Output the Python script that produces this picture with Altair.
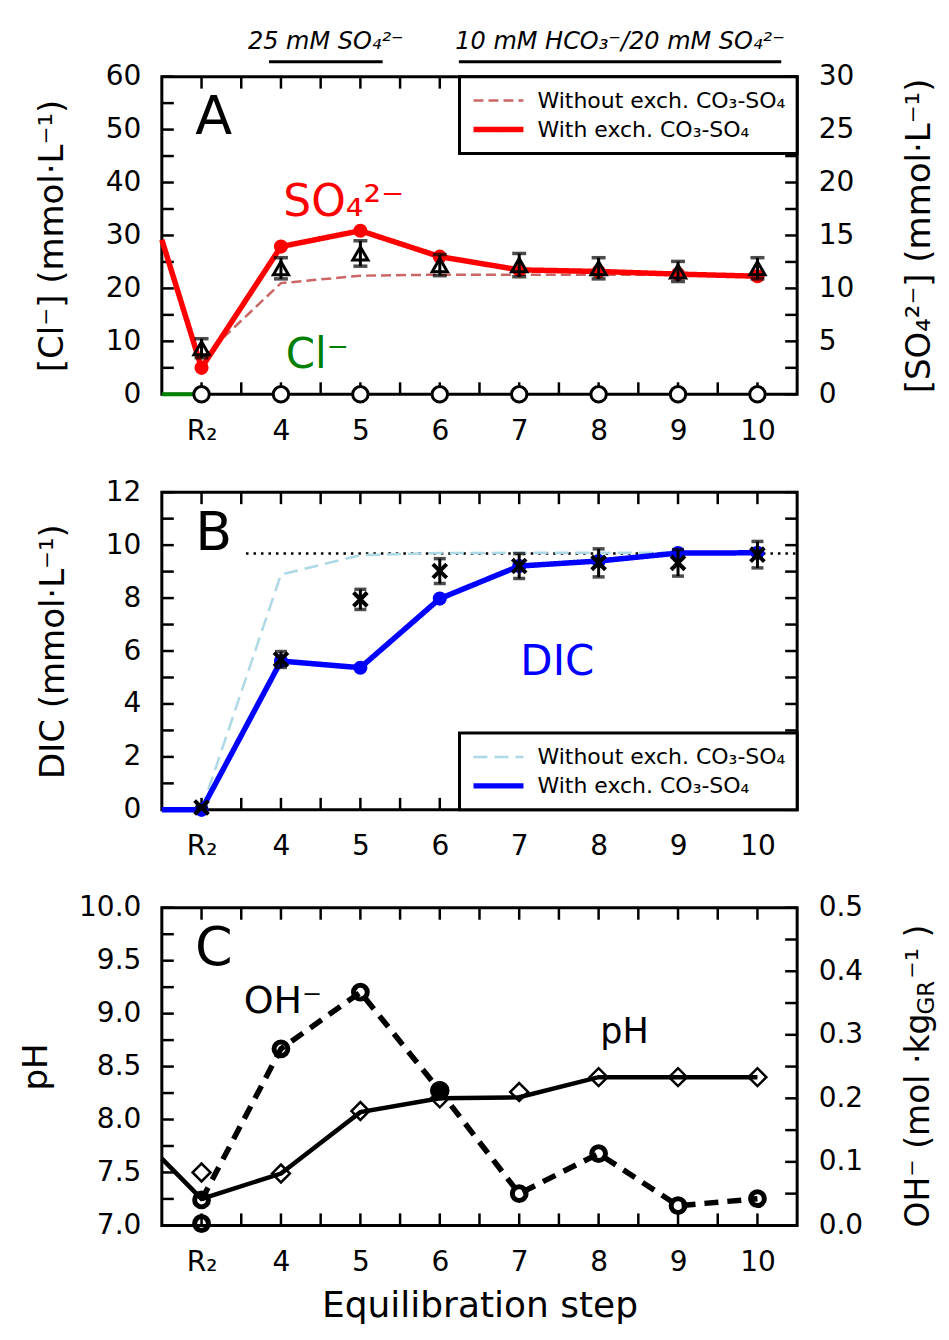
import altair as alt
import pandas as pd

FONT = "DejaVu Sans"
W, H = 636, 318

# ---------------- shared x ----------------
steps = [3, 4, 5, 6, 7, 8, 9, 10]          # 3 = R2
x_ticks = [3, 3.5, 4, 4.5, 5, 5.5, 6, 6.5, 7, 7.5, 8, 8.5, 9, 9.5, 10]

# ---------------- Panel A ----------------
so4_with_x = [2.5, 3, 4, 5, 6, 7, 8, 9, 10]
so4_with = [14.6, 2.5, 13.95, 15.45, 13.0, 11.75, 11.6, 11.35, 11.15]
so4_without = [3.4, 10.5, 11.2, 11.3, 11.3, 11.3, 11.3, 11.3]
so4_meas = [4.35, 11.9, 13.3, 12.2, 12.2, 11.9, 11.6, 11.9]
so4_err = [0.9, 1.0, 1.2, 1.0, 1.1, 1.0, 0.95, 1.0]
cl_line_x = [2.5, 3]
cl_line = [0, 0]
cl_meas = [0, 0, 0, 0, 0, 0, 0, 0]
cl_ticks = [0, 5, 10, 15, 20, 25, 30, 35, 40, 45, 50, 55, 60]
cl_labels = [0, 10, 20, 30, 40, 50, 60]
so4_ticks = [0, 2.5, 5, 7.5, 10, 12.5, 15, 17.5, 20, 22.5, 25, 27.5, 30]
so4_labels = [0, 5, 10, 15, 20, 25, 30]
phase_labels = ["25 mM SO₄²⁻", "10 mM HCO₃⁻/20 mM SO₄²⁻"]
phase_start = [3.85, 6.24]
phase_end = [5.28, 10.3]

# ---------------- Panel B ----------------
dic_with_x = [2.5, 3, 4, 5, 6, 7, 8, 9, 10]
dic_with = [0, 0, 5.62, 5.37, 7.98, 9.21, 9.40, 9.70, 9.71]
dic_without = [0, 8.89, 9.62, 9.70, 9.71, 9.71, 9.71, 9.71]
dic_meas = [0.09, 5.68, 7.95, 9.02, 9.21, 9.33, 9.33, 9.64]
dic_err = [0.05, 0.3, 0.38, 0.47, 0.47, 0.53, 0.5, 0.5]
dic_input_x = [3.56, 10.5]
dic_input = [9.68, 9.68]
dic_ticks = [0, 1, 2, 3, 4, 5, 6, 7, 8, 9, 10, 11, 12]
dic_labels = [0, 2, 4, 6, 8, 10, 12]

# ---------------- Panel C ----------------
ph_model_x = [2.5, 3, 4, 5, 6, 7, 8, 9, 10]
ph_model = [7.63, 7.25, 7.49, 8.07, 8.20, 8.21, 8.40, 8.40, 8.40]
ph_meas = [7.50, 7.49, 8.08, 8.20, 8.26, 8.40, 8.40, 8.40]
oh = [0.040, 0.278, 0.367, 0.212, 0.050, 0.113, 0.031, 0.042]
oh_extra_x = [3]
oh_extra = [0.003]
ph_ticks = [7.0, 7.25, 7.5, 7.75, 8.0, 8.25, 8.5, 8.75, 9.0, 9.25, 9.5, 9.75, 10.0]
ph_labels = [7.0, 7.5, 8.0, 8.5, 9.0, 9.5, 10.0]
oh_ticks = [0, 0.05, 0.1, 0.15, 0.2, 0.25, 0.3, 0.35, 0.4, 0.45, 0.5]
oh_labels = [0, 0.1, 0.2, 0.3, 0.4, 0.5]

series_names = ["Without exch. CO₃-SO₄", "With exch. CO₃-SO₄"]

XS = alt.Scale(domain=[2.5, 10.5], nice=False, zero=False)
RT = 132  # baseline offset of the right-hand titles


def x_axis(title=None):
    return alt.Axis(values=steps, format="d",
                    labelExpr="datum.value == 3 ? 'R₂' : datum.label",
                    ticks=False, domain=False, grid=False, labelFontSize=28,
                    labelPadding=23, labelColor="black", labelFont=FONT,
                    labelFlush=False, labelOverlap=False, title=title,
                    titleFontSize=36, titleFontWeight="normal", titleColor="black",
                    titleFont=FONT, titlePadding=12)


def y_axis(orient, values, fmt, title, title_x):
    return alt.Axis(orient=orient, values=values, format=fmt, ticks=False,
                    domain=False, grid=False, labelFontSize=28, labelPadding=21,
                    labelColor="black", labelFont=FONT, labelFlush=False,
                    labelOverlap=False, title=title, titleFontSize=34,
                    titleFontWeight="normal", titleColor="black", titleFont=FONT,
                    titleX=title_x, titleY=H / 2, titleAngle=270,
                    titleAlign="center", titleBaseline="alphabetic")


def X(field, xaxis):
    return alt.X(field, type="quantitative", scale=XS, axis=xaxis)


def ticks(left_vals, left_scale, left_axis, right_vals, right_scale, right_axis, xaxis):
    xt = alt.Chart(pd.DataFrame({"t": x_ticks}))
    bottom = xt.mark_rule(color="black", strokeWidth=2.5).encode(
        x=X("t", xaxis), y=alt.value(H), y2=alt.value(H - 12))
    top = xt.mark_rule(color="black", strokeWidth=2.5).encode(
        x=X("t", xaxis), y=alt.value(0), y2=alt.value(12))
    left = alt.Chart(pd.DataFrame({"v": left_vals})).mark_rule(
        color="black", strokeWidth=2.5).encode(
        y=alt.Y("v:Q", scale=left_scale, axis=left_axis), x=alt.value(0), x2=alt.value(12))
    right = alt.Chart(pd.DataFrame({"v": right_vals})).mark_rule(
        color="black", strokeWidth=2.5).encode(
        y=alt.Y("v:Q", scale=right_scale, axis=right_axis), x=alt.value(W), x2=alt.value(W - 12))
    return [bottom, top, left, right]


def text_layer(xaxis, txt, x, y, yscale, size, color="black", align="center",
               baseline="middle"):
    return alt.Chart(pd.DataFrame({"x": [x], "y": [y], "t": [txt]})).mark_text(
        fontSize=size, color=color, align=align, baseline=baseline, font=FONT).encode(
        x=X("x", xaxis), y=alt.Y("y:Q", scale=yscale, axis=None), text="t:N")


def err_layers(xaxis, df, yscale, cap):
    base = alt.Chart(df)
    bar = base.mark_rule(color="black", strokeWidth=3).encode(
        x=X("x", xaxis), y=alt.Y("lo:Q", scale=yscale, axis=None), y2="hi:Q")
    lo = base.mark_tick(color="black", orient="horizontal", size=cap, thickness=3.5).encode(
        x=X("x", xaxis), y=alt.Y("lo:Q", scale=yscale, axis=None))
    hi = base.mark_tick(color="black", orient="horizontal", size=cap, thickness=3.5).encode(
        x=X("x", xaxis), y=alt.Y("hi:Q", scale=yscale, axis=None))
    return [bar, lo, hi]


def legend(orient):
    return alt.Legend(title=None, orient=orient, offset=0, padding=11,
                      strokeColor="black", fillColor="white",
                      labelFontSize=22, labelFont=FONT, labelColor="black",
                      symbolType="stroke", symbolSize=2500, labelOffset=11,
                      rowPadding=3, clipHeight=26, labelLimit=400)


def pts(xaxis, df, yscale, **kw):
    return alt.Chart(df).mark_point(opacity=1, **kw).encode(
        x=X("x", xaxis), y=alt.Y("v:Q", scale=yscale, axis=None))


def line(xaxis, df, yscale, **kw):
    return alt.Chart(df).mark_line(**kw).encode(
        x=X("x", xaxis), y=alt.Y("v:Q", scale=yscale, axis=None))


# ====================== Panel A ======================
XA = x_axis()
CLS = alt.Scale(domain=[0, 60], nice=False, zero=False)
SOS = alt.Scale(domain=[0, 30], nice=False, zero=False)

a_lines = pd.concat([
    pd.DataFrame({"x": so4_with_x[1:], "v": so4_without, "sA": series_names[0]}),
    pd.DataFrame({"x": so4_with_x, "v": so4_with, "sA": series_names[1]}),
])
a_leg = legend("top-right")
a_line_layer = alt.Chart(a_lines).mark_line().encode(
    x=X("x", XA),
    y=alt.Y("v:Q", scale=SOS, axis=None),
    color=alt.Color("sA:N", scale=alt.Scale(domain=series_names, range=["#cc6666", "#ff0000"]), legend=a_leg),
    strokeDash=alt.StrokeDash("sA:N", scale=alt.Scale(domain=series_names, range=[[10, 5], [1, 0]]), legend=a_leg),
    strokeWidth=alt.StrokeWidth("sA:N", scale=alt.Scale(domain=series_names, range=[2.5, 5.5]), legend=a_leg),
)
a_red_pts = pts(XA, pd.DataFrame({"x": so4_with_x[1:], "v": so4_with[1:]}), SOS,
                shape="circle", filled=True, color="#ff0000", size=200)
a_meas = pd.DataFrame({"x": steps, "v": so4_meas,
                       "lo": [m - e for m, e in zip(so4_meas, so4_err)],
                       "hi": [m + e for m, e in zip(so4_meas, so4_err)]})
a_tri = pts(XA, a_meas, SOS, shape="triangle-up", filled=False, color="black",
            strokeWidth=3, size=230)
a_cl_line = line(XA, pd.DataFrame({"x": cl_line_x, "v": cl_line}), CLS,
                 color="#008000", strokeWidth=4)
a_cl_pts = pts(XA, pd.DataFrame({"x": steps, "v": cl_meas}), CLS,
               shape="circle", filled=True, fill="white", stroke="black",
               strokeWidth=3, size=240, fillOpacity=1)
a_phase = pd.DataFrame({"s": phase_start, "e": phase_end, "t": phase_labels,
                        "m": [(s + e) / 2 for s, e in zip(phase_start, phase_end)]})
a_phase_rules = alt.Chart(a_phase).mark_rule(color="black", strokeWidth=3).encode(
    x=X("s", XA), x2="e:Q", y=alt.value(-15))
a_phase_text = alt.Chart(a_phase).mark_text(fontSize=24, fontStyle="italic", font=FONT,
                                            baseline="alphabetic", color="black").encode(
    x=X("m", XA), y=alt.value(-28), text="t:N")

panel_a = alt.layer(
    *ticks(cl_ticks, CLS, y_axis("left", cl_labels, "d", "[Cl⁻] (mmol·L⁻¹)", -99),
           so4_ticks, SOS, y_axis("right", so4_labels, "d", "[SO₄²⁻] (mmol·L⁻¹)", RT),
           XA),
    a_line_layer, a_cl_line, a_red_pts,
    *err_layers(XA, a_meas, SOS, 14), a_tri, a_cl_pts,
    text_layer(XA, "A", 3.154, 52.1, CLS, 54),
    text_layer(XA, "SO₄²⁻", 4.03, 33.6, CLS, 44, "#ff0000", "left", "alphabetic"),
    text_layer(XA, "Cl⁻", 4.06, 4.9, CLS, 42, "#008000", "left", "alphabetic"),
    a_phase_rules, a_phase_text,
).resolve_scale(y="independent").properties(width=W, height=H)

# ====================== Panel B ======================
XB = x_axis()
DS = alt.Scale(domain=[0, 12], nice=False, zero=False)
b_lines = pd.concat([
    pd.DataFrame({"x": dic_with_x[1:], "v": dic_without, "sB": series_names[0]}),
    pd.DataFrame({"x": dic_with_x, "v": dic_with, "sB": series_names[1]}),
])
b_leg = legend("bottom-right")
b_line_layer = alt.Chart(b_lines).mark_line().encode(
    x=X("x", XB),
    y=alt.Y("v:Q", scale=DS, axis=None),
    color=alt.Color("sB:N", scale=alt.Scale(domain=series_names, range=["#add8e6", "#0000ff"]), legend=b_leg),
    strokeDash=alt.StrokeDash("sB:N", scale=alt.Scale(domain=series_names, range=[[14, 7], [1, 0]]), legend=b_leg),
    strokeWidth=alt.StrokeWidth("sB:N", scale=alt.Scale(domain=series_names, range=[2.5, 5.5]), legend=b_leg),
)
b_input = line(XB, pd.DataFrame({"x": dic_input_x, "v": dic_input}), DS,
               color="black", strokeWidth=2.5, strokeDash=[2.5, 5])
b_blue_pts = pts(XB, pd.DataFrame({"x": dic_with_x[1:], "v": dic_with[1:]}), DS,
                 shape="circle", filled=True, color="#0000ff", size=200)
b_meas = pd.DataFrame({"x": steps, "v": dic_meas,
                       "lo": [m - e for m, e in zip(dic_meas, dic_err)],
                       "hi": [m + e for m, e in zip(dic_meas, dic_err)]})
b_x = pts(XB, b_meas, DS, shape="M-1,-1L1,1M1,-1L-1,1", filled=False, color="black",
          strokeWidth=4, size=190)

panel_b = alt.layer(
    *ticks(dic_ticks, DS, y_axis("left", dic_labels, "d", "DIC (mmol·L⁻¹)", -98),
           dic_ticks, DS, None, XB),
    b_input, b_line_layer, b_blue_pts, *err_layers(XB, b_meas, DS, 12), b_x,
    text_layer(XB, "B", 3.154, 10.42, DS, 54),
    text_layer(XB, "DIC", 7.48, 5.58, DS, 42, "#0000ff"),
).resolve_scale(y="independent").properties(width=W, height=H)

# ====================== Panel C ======================
XC = x_axis("Equilibration step")
PS = alt.Scale(domain=[7, 10], nice=False, zero=False)
OS = alt.Scale(domain=[0, 0.5], nice=False, zero=False)
c_ph_line = line(XC, pd.DataFrame({"x": ph_model_x, "v": ph_model}), PS,
                 color="black", strokeWidth=4.5)
c_ph_pts = pts(XC, pd.DataFrame({"x": steps, "v": ph_meas}), PS,
               shape="diamond", filled=False, color="black", strokeWidth=2.5, size=320)
c_oh_df = pd.DataFrame({"x": steps, "v": oh})
c_oh_line = line(XC, c_oh_df, OS, color="black", strokeWidth=5.5, strokeDash=[14, 9])
c_oh_pts = pts(XC, pd.concat([c_oh_df, pd.DataFrame({"x": oh_extra_x, "v": oh_extra})]), OS,
               shape="circle", filled=False, color="black", strokeWidth=5, size=190)
c_oh_fill = alt.Chart(c_oh_df).transform_filter("datum.x == 6").mark_point(
    shape="circle", filled=True, color="black", size=380, opacity=1).encode(
    x=X("x", XC), y=alt.Y("v:Q", scale=OS, axis=None))


def rtitle(txt, y, size, dx, align):
    return alt.Chart(pd.DataFrame({"t": [txt]})).mark_text(
        angle=270, fontSize=size, font=FONT, color="black", align=align,
        baseline="alphabetic").encode(x=alt.value(W + RT + dx), y=alt.value(y), text="t:N")


panel_c = alt.layer(
    *ticks(ph_ticks, PS, y_axis("left", ph_labels, ".1f", "pH", -115),
           oh_ticks, OS, y_axis("right", oh_labels, ".1f", None, RT),
           XC),
    c_ph_line, c_ph_pts, c_oh_line, c_oh_pts, c_oh_fill,
    text_layer(XC, "C", 3.154, 9.613, PS, 54),
    text_layer(XC, "OH⁻", 3.53, 9.01, PS, 38, "black", "left", "alphabetic"),
    text_layer(XC, "pH", 8.02, 8.72, PS, 35, "black", "left", "alphabetic"),
    rtitle("OH⁻ (mol ·kg", H + 2, 33, 0, "left"),
    rtitle("GR", 90, 23, 5, "center"),
    rtitle("⁻¹ )", 71, 33, 0, "left"),
).resolve_scale(y="independent").properties(width=W, height=H)

chart = alt.vconcat(panel_a, panel_b, panel_c, spacing=98, bounds="flush").resolve_scale(
    color="independent", strokeDash="independent", strokeWidth="independent"
).configure(font=FONT).configure_view(stroke="black", strokeWidth=3).configure_legend(
    strokeWidth=3).properties(
    padding={"left": 10, "top": 19, "right": 0, "bottom": 0})

chart.save("out.html", embed_options={"renderer": "svg", "actions": False})
